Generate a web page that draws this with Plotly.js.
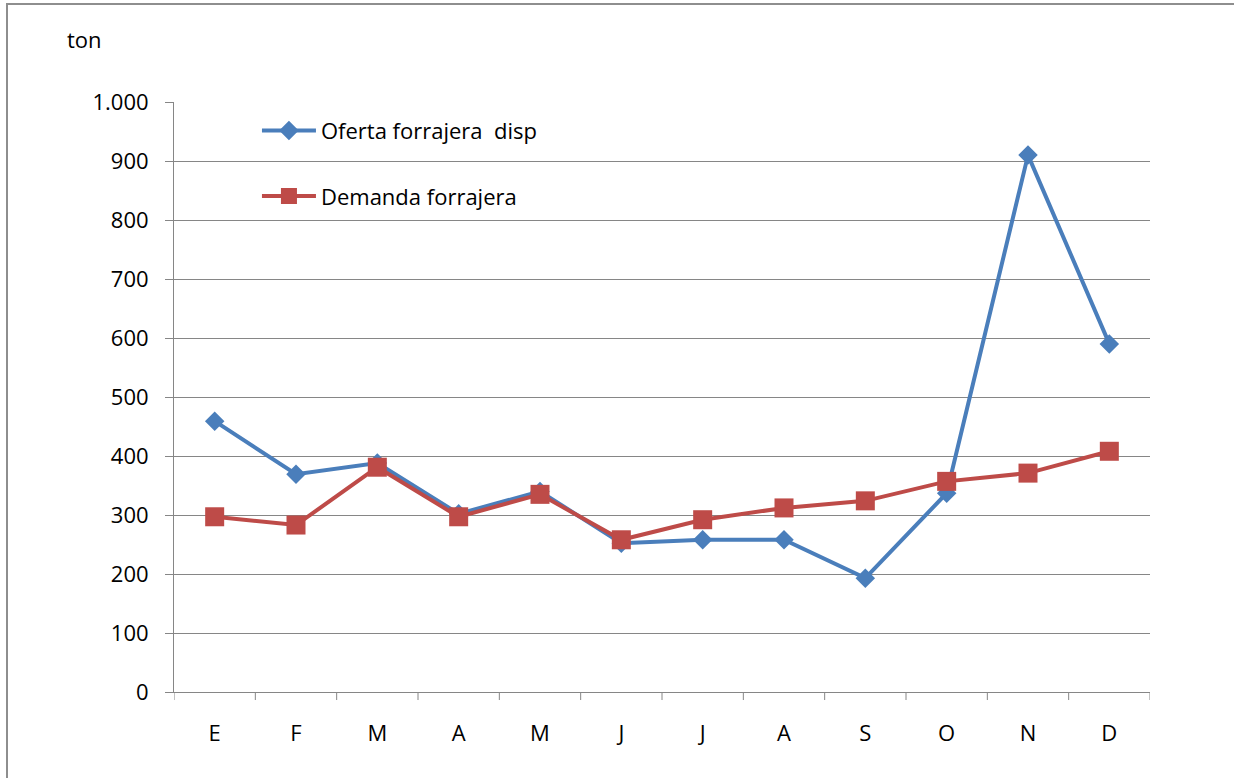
<!DOCTYPE html>
<html>
<head>
<meta charset="utf-8">
<script src="https://cdn.plot.ly/plotly-3.0.1.min.js"></script>
<style>
html,body{margin:0;padding:0;background:#fff;}
#frame{position:absolute;left:6px;top:3px;width:1300px;height:800px;border-top:2px solid #8e8e8e;border-left:2px solid #8e8e8e;pointer-events:none;}
#chart{position:absolute;left:0;top:0;width:1234px;height:778px;}
</style>
</head>
<body>
<div id="chart"></div>
<div id="frame"></div>
<script>
const months = ["E","F","M","A","M","J","J","A","S","O","N","D"];
const oferta = [459, 369, 388, 302, 340, 252, 258, 258, 193, 337, 910, 590];
const demanda = [297, 283, 381, 297, 335, 258, 292, 312, 324, 357, 371, 408];
const yTicks = [0,100,200,300,400,500,600,700,800,900,1000];
const serieNames = ["Oferta forrajera  disp", "Demanda forrajera"];

const xIdx = months.map((_, i) => i);
const FONT = "Open Sans, Lato, sans-serif";
const FS = 22;

const traces = [
  {
    x: xIdx, y: oferta, name: serieNames[0], type: "scatter", mode: "lines+markers",
    line: {color: "#4a7ebb", width: 4},
    marker: {symbol: "diamond", size: 15, color: "#4a7ebb"},
    legendgroup: "a"
  },
  {
    x: xIdx, y: demanda, name: serieNames[1], type: "scatter", mode: "lines+markers",
    line: {color: "#be4b48", width: 4},
    marker: {symbol: "square", size: 19, color: "#be4b48"},
    legendgroup: "b"
  }
];

const layout = {
  width: 1234, height: 778,
  margin: {l: 174, r: 84, t: 102, b: 86},
  paper_bgcolor: "rgba(0,0,0,0)",
  plot_bgcolor: "#fff",
  separators: ",.",
  font: {family: FONT, size: FS, color: "#000"},
  showlegend: true,
  legend: {
    x: 0.085, y: 0.987, xanchor: "left", yanchor: "top",
    bgcolor: "rgba(0,0,0,0)", font: {family: FONT, size: FS, color: "#000"},
    traceorder: "grouped", tracegroupgap: 34, itemwidth: 54
  },
  xaxis: {
    type: "linear", range: [-0.5, 11.5],
    tickmode: "array", tickvals: xIdx, ticktext: months,
    showgrid: false, zeroline: false,
    showline: true, linecolor: "#868686", linewidth: 1,
    ticks: "", ticklabelstandoff: 22,
    tickfont: {family: FONT, size: FS, color: "#000"},
    fixedrange: true
  },
  yaxis: {
    range: [0, 1000],
    tickmode: "array", tickvals: yTicks,
    tickformat: ",d",
    showgrid: true, gridcolor: "#868686", gridwidth: 1,
    zeroline: false,
    showline: true, linecolor: "#868686", linewidth: 1,
    ticks: "outside", ticklen: 8, tickcolor: "#868686", tickwidth: 1,
    ticklabelstandoff: 12,
    tickfont: {family: FONT, size: FS, color: "#000"},
    fixedrange: true
  },
  shapes: months.map((_, i) => ({
    type: "line", xref: "x", yref: "paper",
    x0: i - 0.5, x1: i - 0.5, y0: 0, y1: -0.0136,
    line: {color: "#868686", width: 1}
  })).concat([{
    type: "line", xref: "x", yref: "paper",
    x0: 11.5, x1: 11.5, y0: 0, y1: -0.0136,
    line: {color: "#868686", width: 1}
  }]),
  annotations: [{
    text: "ton", xref: "paper", yref: "paper",
    x: -0.112, y: 1.107, xanchor: "left", yanchor: "middle",
    showarrow: false, font: {family: FONT, size: FS, color: "#000"}
  }]
};

Plotly.newPlot("chart", traces, layout, {displayModeBar: false, staticPlot: true});
</script>
</body>
</html>
